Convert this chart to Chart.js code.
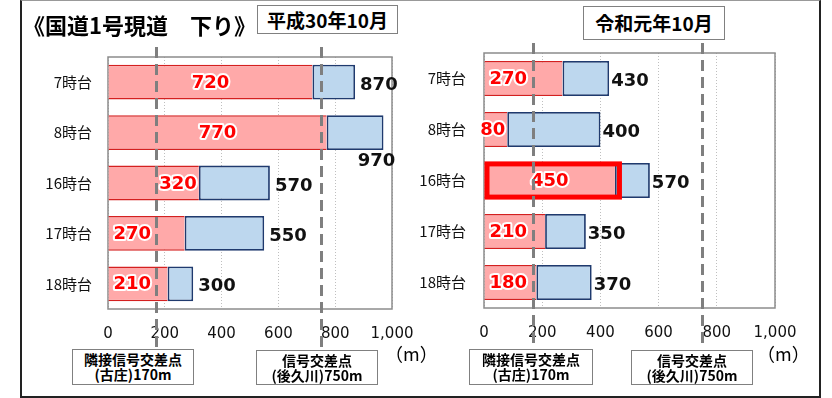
<!DOCTYPE html>
<html>
<head>
<meta charset="utf-8">
<script src="https://cdn.jsdelivr.net/npm/chart.js@4.4.1/dist/chart.umd.min.js"></script>
<style>
  body { margin:0; width:832px; height:398px; background:#fff; position:relative; overflow:hidden;
         font-family:"Noto Sans CJK JP", sans-serif; color:#000; }
  canvas { position:absolute; left:0; top:0; }
  .frame { position:absolute; left:20px; top:0; width:797px; height:395px;
           border:2px solid #222; border-top:1px solid #999; }
  .title { position:absolute; left:23px; top:9px; font-size:22px; font-weight:bold;
           line-height:30px; white-space:pre; z-index:2; }
  .period { position:absolute; box-sizing:border-box; border:1px solid #808080; background:#fff;
            font-weight:bold; font-size:19px; text-align:center; z-index:2; }
  .note { position:absolute; box-sizing:border-box; border:1px solid #808080; background:#fff;
          font-weight:bold; font-size:14px; line-height:15px; text-align:center;
          padding-top:2px; z-index:2; }
  .unit { position:absolute; font-size:18px; line-height:22px; z-index:2; }
</style>
</head>
<body>
<div class="frame"></div>
<canvas id="h30" width="832" height="398"></canvas>
<canvas id="r1" width="832" height="398"></canvas>

<div class="title">《国道1号現道　下り》</div>
<div class="period" style="left:257px;top:5px;width:141px;height:29px;line-height:27px;">平成30年10月</div>
<div class="period" style="left:583px;top:6px;width:142px;height:34px;line-height:32px;">令和元年10月</div>

<div class="note" style="left:72px;top:349px;width:122px;height:36px;">隣接信号交差点<br>(古庄)170m</div>
<div class="note" style="left:256px;top:350px;width:122px;height:35px;">信号交差点<br>(後久川)750m</div>
<div class="note" style="left:469px;top:349px;width:124px;height:36px;">隣接信号交差点<br>(古庄)170m</div>
<div class="note" style="left:631px;top:350px;width:122px;height:35px;">信号交差点<br>(後久川)750m</div>

<div class="unit" style="left:385px;top:342px;">（m）</div>
<div class="unit" style="left:757px;top:342px;">（m）</div>

<script>
// Time slots (rows) and distance axis ticks, in metres
const hours = ['7時台', '8時台', '16時台', '17時台', '18時台'];
const xTicks = [0, 200, 400, 600, 800, 1000];

// Queue lengths (m): shorter value (red) and longer value (blue end)
const h30Min = [720, 770, 320, 270, 210];
const h30Max = [870, 970, 570, 550, 300];
const r1Min = [270, 80, 450, 210, 180];
const r1Max = [430, 400, 570, 350, 370];

// Signalised intersections along the route (m)
const signalDistances = [170, 750];

function barPlugin(look) {
  return {
    id: 'queueDecor',
    beforeDatasetsDraw(chart) {
      const { ctx, chartArea: a } = chart;
      ctx.save();
      ctx.strokeStyle = '#8C8C8C';
      ctx.lineWidth = 1.5;
      ctx.strokeRect(a.left, a.top, a.right - a.left, a.bottom - a.top);
      ctx.restore();
    },
    afterDatasetsDraw(chart) {
      const ctx = chart.ctx;
      const xs = chart.scales.x;
      const inner = chart.getDatasetMeta(0).data;
      const outer = chart.getDatasetMeta(1).data;
      const minVals = chart.data.datasets[0].data;
      const spans = chart.data.datasets[1].data;

      ctx.save();
      // emphasised bar
      if (look.highlight != null) {
        const el = inner[look.highlight];
        const p = el.getProps(['x', 'y', 'base', 'height'], true);
        ctx.strokeStyle = '#FF0000';
        ctx.lineWidth = 5;
        ctx.strokeRect(p.base + 2.5, p.y - p.height / 2 + 1, p.x - p.base + 2, p.height - 2);
      }

      ctx.font = 'bold 18px "DejaVu Sans"';
      ctx.textBaseline = 'middle';
      ctx.lineJoin = 'round';

      // values inside the red bars
      inner.forEach((el, i) => {
        const p = el.getProps(['x', 'y', 'base'], true);
        const txt = String(minVals[i]);
        const w = ctx.measureText(txt).width;
        let cx;
        if (look.innerAlign[i] === 'start') cx = p.base + 5 + w / 2;
        else if (look.innerAlign[i] === 'end') cx = p.x - 2 - w / 2;
        else cx = (p.base + p.x) / 2;
        ctx.textAlign = 'center';
        ctx.strokeStyle = '#FFFFFF';
        ctx.lineWidth = 4;
        ctx.strokeText(txt, cx, p.y + 1);
        ctx.fillStyle = '#FF0000';
        ctx.fillText(txt, cx, p.y + 1);
      });

      // totals beside the blue bars
      outer.forEach((el, i) => {
        const p = el.getProps(['x', 'y', 'height'], true);
        const txt = String(spans[i][1]);
        const w = ctx.measureText(txt).width;
        ctx.fillStyle = '#111111';
        ctx.textAlign = 'left';
        if (look.totalPlace[i] === 'below') {
          ctx.fillText(txt, p.x - 7 - w / 2, p.y + p.height / 2 + 11);
        } else {
          ctx.fillText(txt, p.x + look.totalGap, p.y + 3);
        }
      });

      // dashed markers for the intersections
      ctx.strokeStyle = '#7F7F7F';
      ctx.lineWidth = 3;
      ctx.setLineDash([11, 6]);
      signalDistances.forEach(d => {
        const x = Math.round(xs.getPixelForValue(d)) + 0.5;
        ctx.beginPath();
        ctx.moveTo(x, chart.chartArea.top - 10);
        ctx.lineTo(x, 347);
        ctx.stroke();
      });
      ctx.restore();
    }
  };
}

function makeChart(id, minVals, maxVals, look) {
  return new Chart(document.getElementById(id), {
    type: 'bar',
    data: {
      labels: hours,
      datasets: [
        {
          data: minVals,
          backgroundColor: '#FFA9A9',
          borderColor: '#D42020',
          borderWidth: { top: 1.5, bottom: 1.5, left: 0, right: 0 },
          borderSkipped: false,
          grouped: false, order: 2,
          categoryPercentage: 1, barPercentage: 0.69
        },
        {
          data: minVals.map((v, i) => [v, maxVals[i]]),
          backgroundColor: '#BDD7EE',
          borderColor: '#1F3A6E',
          borderWidth: 1.8,
          borderSkipped: false,
          grouped: false, order: 1,
          categoryPercentage: 1, barPercentage: 0.69
        }
      ]
    },
    options: {
      indexAxis: 'y',
      responsive: false,
      animation: false,
      devicePixelRatio: 1,
      layout: { padding: { left: look.padLeft, right: 832 - look.right, top: look.top, bottom: 0 } },
      plugins: { legend: { display: false }, tooltip: { enabled: false } },
      scales: {
        x: {
          min: 0, max: 1000,
          afterBuildTicks: s => { s.ticks = xTicks.map(v => ({ value: v })); },
          ticks: {
            padding: 16, color: '#111',
            font: { family: 'DejaVu Sans', size: 15 },
            maxRotation: 0, autoSkip: false,
            callback: v => Number(v).toLocaleString('en-US')
          },
          grid: { color: '#BFBFBF', lineWidth: 1, drawTicks: false },
          border: { display: false, dash: [1, 2] },
          afterFit: s => { s.height = 398 - look.bottom; }
        },
        y: {
          ticks: { padding: look.yPad, color: '#111', font: { family: 'Noto Sans CJK JP', size: 15 } },
          grid: { display: false, drawTicks: false },
          border: { display: false },
          afterFit: s => { s.width = look.left - look.padLeft; }
        }
      }
    },
    plugins: [barPlugin(look)]
  });
}

makeChart('h30', h30Min, h30Max, {
  padLeft: 30, left: 108, right: 392, top: 57, bottom: 309, yPad: 16,
  innerAlign: ['center', 'center', 'end', 'start', 'start'],
  totalPlace: ['right', 'below', 'right', 'right', 'right'],
  totalGap: 5, highlight: null
});

makeChart('r1', r1Min, r1Max, {
  padLeft: 400, left: 484, right: 775, top: 53, bottom: 308, yPad: 18,
  innerAlign: ['start', 'end', 'center', 'start', 'start'],
  totalPlace: ['right', 'right', 'right', 'right', 'right'],
  totalGap: 2, highlight: 2
});
</script>
</body>
</html>
